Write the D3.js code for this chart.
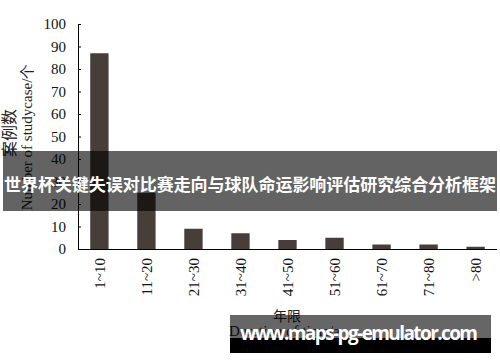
<!DOCTYPE html>
<html>
<head>
<meta charset="utf-8">
<script src="https://cdn.jsdelivr.net/npm/d3@7"></script>
<style>
  body { margin: 0; background: #fff; }
  svg { display: block; }
</style>
</head>
<body>
<div id="plot"></div>
<script>
"use strict";

// data
const categories = ["1~10", "11~20", "21~30", "31~40", "41~50", "51~60", "61~70", "71~80", ">80"];
const counts = [87, 25, 9, 7, 4, 5, 2, 2, 1];
const yTicks = [0, 10, 20, 30, 40, 50, 60, 70, 80, 90, 100];

const msm = {
    width: 500,
    height: 362,
    left: 78,
    right: 497,
    top: 24,
    bottom: 249
}

const serif = "'Liberation Serif', 'Times New Roman', serif";

const svg = d3.select("#plot")
    .append("svg")
    .attr("width", msm.width)
    .attr("height", msm.height);

let xScale = d3.scaleBand()
    .domain(categories)
    .range([msm.left, msm.right])
    .paddingInner(0.61)
    .paddingOuter(0.26);

let yScale = d3.scaleLinear()
    .domain([0, 100])
    .range([msm.bottom, msm.top]);

// bars
svg.append("g")
    .selectAll("rect")
    .data(counts)
    .enter()
    .append("rect")
    .attr("x", (d, i) => xScale(categories[i]))
    .attr("y", d => yScale(d))
    .attr("width", xScale.bandwidth())
    .attr("height", d => yScale(0) - yScale(d))
    .attr("fill", "#483e39");

// y axis, ticks point inward
let yAxis = d3.axisLeft(yScale).tickValues(yTicks).tickSizeInner(-3).tickSizeOuter(0).tickPadding(12);
let gy = svg.append("g")
    .attr("transform", "translate(" + msm.left + ",0)")
    .call(yAxis);
gy.select(".domain").attr("stroke", "#000");
gy.selectAll("line").attr("stroke", "#000");
gy.selectAll("text")
    .attr("font-family", serif)
    .attr("font-size", 15)
    .attr("fill", "#111");

// x axis, no ticks, rotated labels
let xAxis = d3.axisBottom(xScale).tickSize(0).tickSizeOuter(0);
let gx = svg.append("g")
    .attr("transform", "translate(0," + msm.bottom + ")")
    .call(xAxis);
gx.select(".domain").attr("stroke", "#000").attr("d", "M" + msm.left + ",0.5H" + msm.right);
gx.selectAll("text")
    .attr("font-family", serif)
    .attr("font-size", 15)
    .attr("fill", "#111")
    .attr("text-anchor", "end")
    .attr("dy", "0.35em")
    .attr("transform", "translate(0,9) rotate(-90)")
    .attr("x", 0)
    .attr("y", 0);

// axis titles
svg.append("text")
    .attr("transform", "translate(15,133) rotate(-90)")
    .attr("text-anchor", "middle")
    .attr("font-family", "'Noto Sans CJK SC', serif")
    .attr("font-size", 16)
    .attr("fill", "#222")
    .text("案例数");

svg.append("text")
    .attr("transform", "translate(32,137) rotate(-90)")
    .attr("text-anchor", "middle")
    .attr("font-family", serif)
    .attr("font-size", 15)
    .attr("fill", "#222")
    .text("Number of studycase/个");

svg.append("text")
    .attr("x", 287)
    .attr("y", 321)
    .attr("text-anchor", "middle")
    .attr("font-family", "'Noto Sans CJK SC', serif")
    .attr("font-size", 14)
    .attr("fill", "#222")
    .text("年限");

svg.append("text")
    .attr("x", 229)
    .attr("y", 336)
    .attr("font-family", serif)
    .attr("font-size", 15)
    .attr("fill", "#222")
    .text("Duration of time/a");

// title banner
svg.append("rect")
    .attr("x", 3).attr("y", 151)
    .attr("width", 494).attr("height", 60)
    .attr("fill", "#000").attr("fill-opacity", 0.61);

svg.append("text")
    .attr("x", 250)
    .attr("y", 191)
    .attr("text-anchor", "middle")
    .attr("font-family", "'Noto Sans CJK SC', sans-serif")
    .attr("font-weight", "bold")
    .attr("font-size", 17)
    .attr("fill", "#fff")
    .attr("textLength", 492)
    .text("世界杯关键失误对比赛走向与球队命运影响评估研究综合分析框架");

// watermark
svg.append("rect")
    .attr("x", 230).attr("y", 315)
    .attr("width", 261).attr("height", 23)
    .attr("fill", "#000").attr("fill-opacity", 0.6);
svg.append("rect")
    .attr("x", 230).attr("y", 338)
    .attr("width", 261).attr("height", 15)
    .attr("fill", "#000");
svg.append("text")
    .attr("x", 240)
    .attr("y", 340)
    .attr("font-family", "'Open Sans', 'DejaVu Sans', sans-serif")
    .attr("font-weight", "bold")
    .attr("font-size", 19)
    .attr("fill", "#fff")
    .attr("textLength", 238)
    .text("www.maps-pg-emulator.com");
</script>
</body>
</html>
